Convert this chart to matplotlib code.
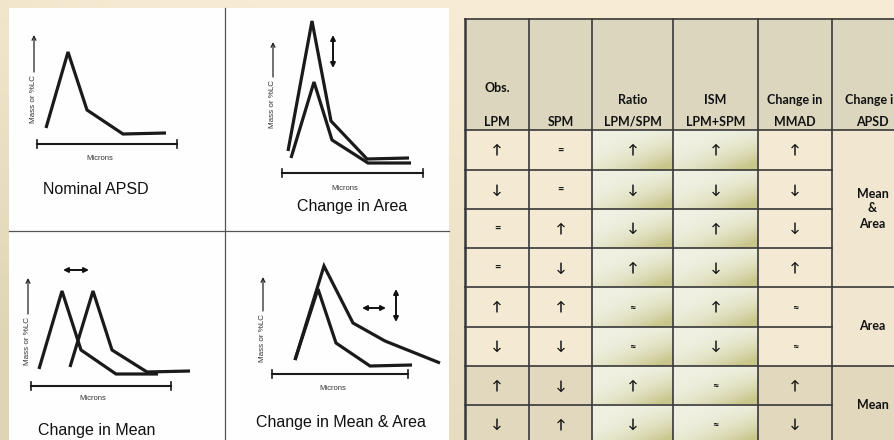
import numpy as np
import matplotlib
matplotlib.use("Agg")
import matplotlib.pyplot as plt
import matplotlib.transforms as mtransforms

# ---- APSD sketch data: micron position along axis, mass above baseline ----
nominal_um = [9, 31, 50, 86, 129]
nominal_mass = [16, 92, 34, 10, 11]
area_um_hi = [6, 30, 49, 85, 127]
area_mass_hi = [22, 152, 52, 14, 15]
area_um_lo = [9, 32, 50, 86, 129]
area_mass_lo = [15, 91, 33, 10, 10]
mean_um_a = [8, 31, 50, 85, 127]
mean_mass_a = [17, 95, 36, 12, 12]
mean_um_b = [39, 62, 81, 116, 159]
mean_mass_b = [19, 95, 36, 14, 15]
both_um_lo = [23, 46, 64, 98, 140]
both_mass_lo = [14, 85, 31, 8, 9]
both_um_hi = [23, 52, 81, 113, 168]
both_mass_hi = [14, 108, 51, 33, 11]

panel_titles = ["Nominal APSD", "Change in Area", "Change in Mean", "Change in Mean & Area"]

# ---- table data ----
header_top = ["Obs.", "", "Ratio", "ISM", "Change in", "Change in"]
header_bot = ["LPM", "SPM", "LPM/SPM", "LPM+SPM", "MMAD", "APSD"]
lpm = ["↑", "↓", "=", "=", "↑", "↓", "↑", "↓"]
spm = ["=", "=", "↑", "↓", "↑", "↓", "↓", "↑"]
ratio = ["↑", "↓", "↓", "↑", "≈", "≈", "↑", "↓"]
ism = ["↑", "↓", "↑", "↓", "↑", "↓", "≈", "≈"]
mmad = ["↑", "↓", "↓", "↑", "≈", "≈", "↑", "↓"]
apsd_labels = ["Mean\n&\nArea", "Area", "Mean"]
apsd_spans = [4, 2, 2]

# ---- layout (figure pixels) ----
W, H = 895, 440
panels = [  # origin of micron axis, axis length, y-label x, text start, arrow tip
    dict(o=(37, 144), L=140, lx=-3, t0=21, a1=109, title=(59, -45), mic=(63, -15)),
    dict(o=(282, 173), L=141, lx=-9, t0=45, a1=131, title=(70, -33), mic=(63, -16)),
    dict(o=(31, 386), L=140, lx=-3, t0=21, a1=108, title=(66, -44), mic=(62, -13)),
    dict(o=(272, 374), L=136, lx=-9, t0=12, a1=97, title=(69, -49), mic=(61, -14)),
]
col_edges = [465, 529, 592, 673, 758, 832, 905]
row_edges = [19, 130, 170, 209, 248, 287, 327, 366, 405, 444]

LINE = "#1a1a1a"
BORDER = "#383838"
sans = ["Liberation Sans", "DejaVu Sans"]
tfont = ["Lato", "DejaVu Sans"]

fig = plt.figure(figsize=(W / 100, H / 100), dpi=100)
ax = fig.add_axes([0, 0, 1, 1])
ax.set_xlim(0, W)
ax.set_ylim(H, 0)
ax.axis("off")

# slide background: cream, darker towards lower left
yy, xx = np.mgrid[0:1:60j, 0:1:100j]
t = np.clip(yy * (1 - 0.55 * xx) * 0.95 + 0.25 * (1 - xx) ** 6, 0, 1)
cream = np.array([0.973, 0.925, 0.835])
tan = np.array([0.875, 0.835, 0.71])
bg = cream + t[..., None] * (tan - cream)
ax.imshow(bg, extent=(0, W, H, 0), aspect="auto", zorder=0, interpolation="bilinear")

# white sketch board with dividers
ax.fill_between([9, 449], 8, H, color="#fefefe", zorder=1, lw=0)
ax.plot([225, 225], [8, H], color="#555555", lw=0.9, zorder=2)
ax.plot([9, 449], [231, 231], color="#555555", lw=0.9, zorder=2)

curves = [
    [(nominal_um, nominal_mass)],
    [(area_um_hi, area_mass_hi), (area_um_lo, area_mass_lo)],
    [(mean_um_a, mean_mass_a), (mean_um_b, mean_mass_b)],
    [(both_um_lo, both_mass_lo), (both_um_hi, both_mass_hi)],
]
arrows = [  # double-headed arrows: (x0, m0, x1, m1)
    [],
    [(51, 105, 51, 138)],
    [(32, 116, 58, 116)],
    [(90, 66, 114, 66), (124, 52, 124, 85)],
]

for p, title, cs, arrs in zip(panels, panel_titles, curves, arrows):
    ox, oy = p["o"]
    tr = mtransforms.Affine2D().scale(1, -1).translate(ox, oy) + ax.transData
    for um, mass in cs:
        ax.plot(um, mass, color=LINE, lw=2.3, transform=tr, zorder=3,
                solid_joinstyle="miter", solid_capstyle="butt")
    # micron axis with end ticks
    ax.plot([0, p["L"]], [0, 0], color=LINE, lw=1.5, transform=tr, zorder=3)
    for xe in (0, p["L"]):
        ax.plot([xe, xe], [-4, 4], color=LINE, lw=1.2, transform=tr, zorder=3)
    ax.text(p["mic"][0], p["mic"][1], "Microns", transform=tr, fontsize=5.5,
            family=sans, color="#333333", ha="center", va="center", zorder=3)
    # y label with arrow
    ax.text(p["lx"], p["t0"], "Mass or %LC", transform=tr, rotation=90,
            rotation_mode="anchor", ha="left", va="center", fontsize=5.8,
            family=sans, color="#333333", zorder=3)
    ax.annotate("", xy=(p["lx"], p["a1"]), xytext=(p["lx"], p["t0"] + 51),
                xycoords=tr, textcoords=tr,
                arrowprops=dict(arrowstyle="->", lw=0.9, color="#222222",
                                mutation_scale=7, shrinkA=0, shrinkB=0), zorder=3)
    for x0, m0, x1, m1 in arrs:
        ax.annotate("", xy=(x1, m1), xytext=(x0, m0), xycoords=tr, textcoords=tr,
                    arrowprops=dict(arrowstyle="<|-|>", lw=1.4, color="#111111",
                                    mutation_scale=7, shrinkA=0, shrinkB=0), zorder=3)
    ax.text(p["title"][0], p["title"][1], title, transform=tr, fontsize=11.5,
            family=sans, color="#111111", ha="center", va="center", zorder=3)

# ---- table ----
cols = [lpm, spm, ratio, ism, mmad]
n_rows = len(lpm)
HEAD_BG = "#dcd6bf"
ROW_BG = "#f4ead3"
DARK_BG = "#e2d8bd"

ax.fill_between([col_edges[0], col_edges[-1]], row_edges[0], row_edges[1],
                color=HEAD_BG, zorder=1, lw=0)

gy, gx = np.mgrid[0:1:30j, 0:1:40j]
gt = np.clip((gx * 0.55 + gy * 0.45) ** 2.2 * 1.3 * np.sqrt(gy + 0.05), 0, 1)
g_light = np.array([0.94, 0.945, 0.89])
g_olive = np.array([0.79, 0.78, 0.55])
grad = g_light + gt[..., None] * (g_olive - g_light)

for r in range(n_rows):
    y0, y1 = row_edges[r + 1], row_edges[r + 2]
    for c, vals in enumerate(cols):
        x0, x1 = col_edges[c], col_edges[c + 1]
        if c in (2, 3):
            ax.imshow(grad, extent=(x0, x1, y1, y0), aspect="auto", zorder=1,
                      interpolation="bilinear")
        else:
            ax.fill_between([x0, x1], y0, y1, color=DARK_BG if r >= 6 else ROW_BG,
                            zorder=1, lw=0)
        s = vals[r]
        fs = 8 if s in ("=", "≈") else 9.5
        ax.text((x0 + x1) / 2, (y0 + y1) / 2, s, ha="center", va="center",
                fontsize=fs, fontweight="bold", family=tfont, color="#111111", zorder=4)

# merged APSD column
r = 0
for lab, span in zip(apsd_labels, apsd_spans):
    y0, y1 = row_edges[r + 1], row_edges[r + 1 + span]
    x0, x1 = col_edges[5], col_edges[6]
    ax.fill_between([x0, x1], y0, y1, color=DARK_BG if r >= 6 else "#f1e7d1",
                    zorder=1, lw=0)
    ax.text((x0 + x1) / 2 + 4, (y0 + y1) / 2, lab, ha="center", va="center",
            fontsize=9, fontweight="bold", family=tfont, color="#111111",
            linespacing=1.3, zorder=4)
    ax.plot([x0, x1], [y1, y1], color=BORDER, lw=1.2, zorder=5)
    r += span

# header text (last column runs off the slide edge, as in the original)
for c in range(6):
    xc = (col_edges[c] + col_edges[c + 1]) / 2
    if c == 5:
        xc += 4
    ax.text(xc, 88 if c == 0 else 100, header_top[c], ha="center", va="center",
            fontsize=9, fontweight="bold", family=tfont, color="#111111", zorder=4)
    ax.text(xc, 122, header_bot[c], ha="center", va="center",
            fontsize=9, fontweight="bold", family=tfont, color="#111111", zorder=4)

# grid lines
for i, y in enumerate(row_edges):
    ax.plot([col_edges[0], col_edges[-1] if i < 2 else col_edges[5]], [y, y],
            color=BORDER, lw=1.2, zorder=5)
for j, x in enumerate(col_edges[:-1]):
    ax.plot([x, x], [row_edges[0], row_edges[-1]], color=BORDER,
            lw=1.8 if j == 0 else 1.2, zorder=5)

fig.savefig("out.png", dpi=100)
